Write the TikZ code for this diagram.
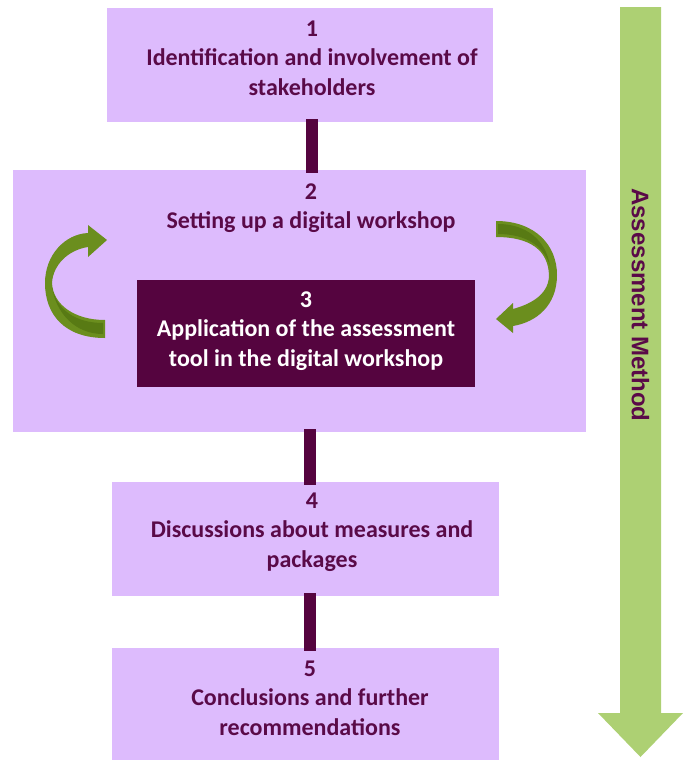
\documentclass[tikz,border=0pt]{standalone}
\usepackage{fontspec}
\setmainfont{Carlito}
\newfontfamily\arrowfont{Liberation Sans}
\usetikzlibrary{positioning}
\definecolor{boxlilac}{HTML}{DDBBFD}
\definecolor{plum}{HTML}{55043F}
\definecolor{plumtext}{HTML}{5A0A48}
\definecolor{lightgreen}{HTML}{ADD073}
\definecolor{olivegreen}{HTML}{6B8E1E}
\definecolor{darkolive}{HTML}{587A14}

\begin{document}
\begin{tikzpicture}[x=1pt,y=-1pt,
    stage/.style={fill=boxlilac,draw=none,inner sep=0pt},
    label/.style={align=center,text=plumtext,font=\fontsize{24}{29.5}\selectfont\bfseries},
    link/.style={draw=plum,line width=12pt,shorten <=-3pt,shorten >=-3pt}]
          \useasboundingbox (0,0) rectangle (688,761);
          % stages
          \node[stage,minimum width=386,minimum height=114] (b1) at (300,65) {};
          \node[stage,minimum width=573,minimum height=262] (b2) at (299.5,301) {};
          \node[fill=plum,inner sep=0pt,minimum width=338,minimum height=107] (b3) at (306,333.5) {};
          \node[stage,minimum width=387,minimum height=114] (b4) at (305.5,539) {};
          \node[stage,minimum width=387,minimum height=112] (b5) at (305.5,704) {};
          % texts
          \node[label] (t1) at (312,58) {1\\Identification and involvement of\\stakeholders};
          \node[label] (t2) at (311,208) {2\\Setting up a digital workshop};
          \node[label,text=white] (t3) at (306,331) {3\\Application of the assessment\\tool in the digital workshop};
          \node[label] (t4) at (312,532) {4\\Discussions about measures and\\packages};
          \node[label] (t5) at (310,698) {5\\Conclusions and further\\recommendations};
          % links
          \draw[link] (t1.center |- b1.south) -- (t1.center |- b2.north);
          \draw[link] (310,0 |- b2.south) -- (310,0 |- b4.north);
          \draw[link] (310,0 |- b4.south) -- (310,0 |- b5.north);
          % loop arrows
          \fill[olivegreen] (105,338) .. controls (65,338) and (45,315) .. (45,283)
              .. controls (45,255) and (65,234) .. (88,233) -- (88,225) -- (107,240) -- (88,257) -- (88,247)
              .. controls (68,250) and (53,265) .. (52,283)
              .. controls (53,305) and (75,320) .. (105,320) -- cycle;
          \fill[darkolive] (103,323) .. controls (75,323) and (56,309) .. (52,287)
              .. controls (56,313) and (75,334) .. (103,334) -- cycle;
          \fill[olivegreen] (496,221) .. controls (535,221) and (557,245) .. (557,275)
              .. controls (557,305) and (537,322) .. (513,326) -- (513,333) -- (496,319) -- (513,303) -- (513,309)
              .. controls (535,303) and (549,292) .. (549,275)
              .. controls (548,250) and (530,237) .. (496,237) -- cycle;
          \fill[darkolive] (498,224) .. controls (526,224) and (546,240) .. (550,266)
              .. controls (544,246) and (526,234) .. (498,234) -- cycle;
          % assessment arrow
          \fill[lightgreen] (620,7) -- (661,7) -- (661,713) -- (683,713) -- (640.5,757) -- (598,713) -- (620,713) -- cycle;
          \node[label,font=\arrowfont\fontsize{24}{28}\selectfont\bfseries,rotate=-90] (method) at (640.5,305) {Assessment Method};
\end{tikzpicture}
\end{document}
